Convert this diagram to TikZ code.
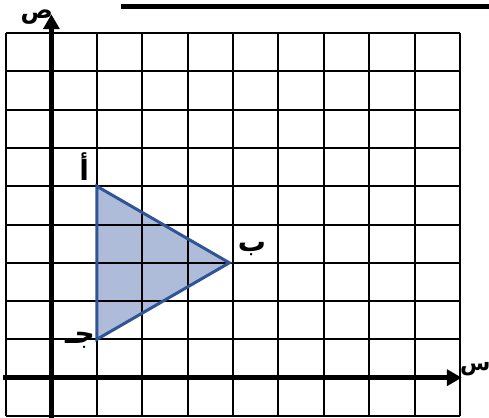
\documentclass[tikz,border=0pt]{standalone}
\usepackage{fontspec}
\usepackage{xcolor}
\usepackage{tikz}
\usetikzlibrary{arrows.meta}
\TeXXeTstate=1
\newfontfamily\arabicfont[Script=Arabic]{DejaVu Sans}
\definecolor{triblue}{HTML}{2F5597}
\definecolor{trifill}{HTML}{AEBCD9}
\tikzset{
  gridline/.style={black, line width=2pt},
  axisline/.style={black, line width=5pt, -{Triangle[length=15pt, width=16pt]}},
  letter/.style={inner sep=0pt, font=\fontsize{28}{30}\selectfont\arabicfont\bfseries}
}

\begin{document}
\begin{tikzpicture}[x=45.4pt, y=38.3pt]

\useasboundingbox (-1.132, -1.052) rectangle (9.639, 9.862);

% Title rule
\draw[black, line width=5pt] (1.533, 9.705) -- (9.639, 9.705);

% Triangle fill
\fill[trifill] (1, 5) -- (3.92, 3) -- (1, 1) -- cycle;

% Grid
\draw[gridline, xstep=45.4pt, ystep=38.3pt] (-1, -1) grid (9, 9);

% Axes
\draw[axisline] (-1.066, 0) -- (9.04, 0);
\draw[axisline] (0, -1.06) -- (0, 9.49);

% Triangle
\draw[triblue, line width=3pt, line join=miter] (1, 5) coordinate (a) -- (3.92, 3) coordinate (b) -- (1, 1) coordinate (c) -- cycle;

% Labels
\node[letter] (la) at (0.72, 5.5) {\beginR أ\endR};
\node[letter] (lb) at (4.42, 3.36) {\beginR ب\endR};
\node[letter] (lc) at (0.63, 0.98) {\beginR جـ\endR};
\node[letter, font=\fontsize{24}{26}\selectfont\arabicfont\bfseries] (ly) at (-0.32, 9.42) {\beginR ص\endR};
\node[letter, font=\fontsize{22}{24}\selectfont\arabicfont\bfseries] (lx) at (9.34, 0.22) {\beginR س\endR};

\end{tikzpicture}
\end{document}
